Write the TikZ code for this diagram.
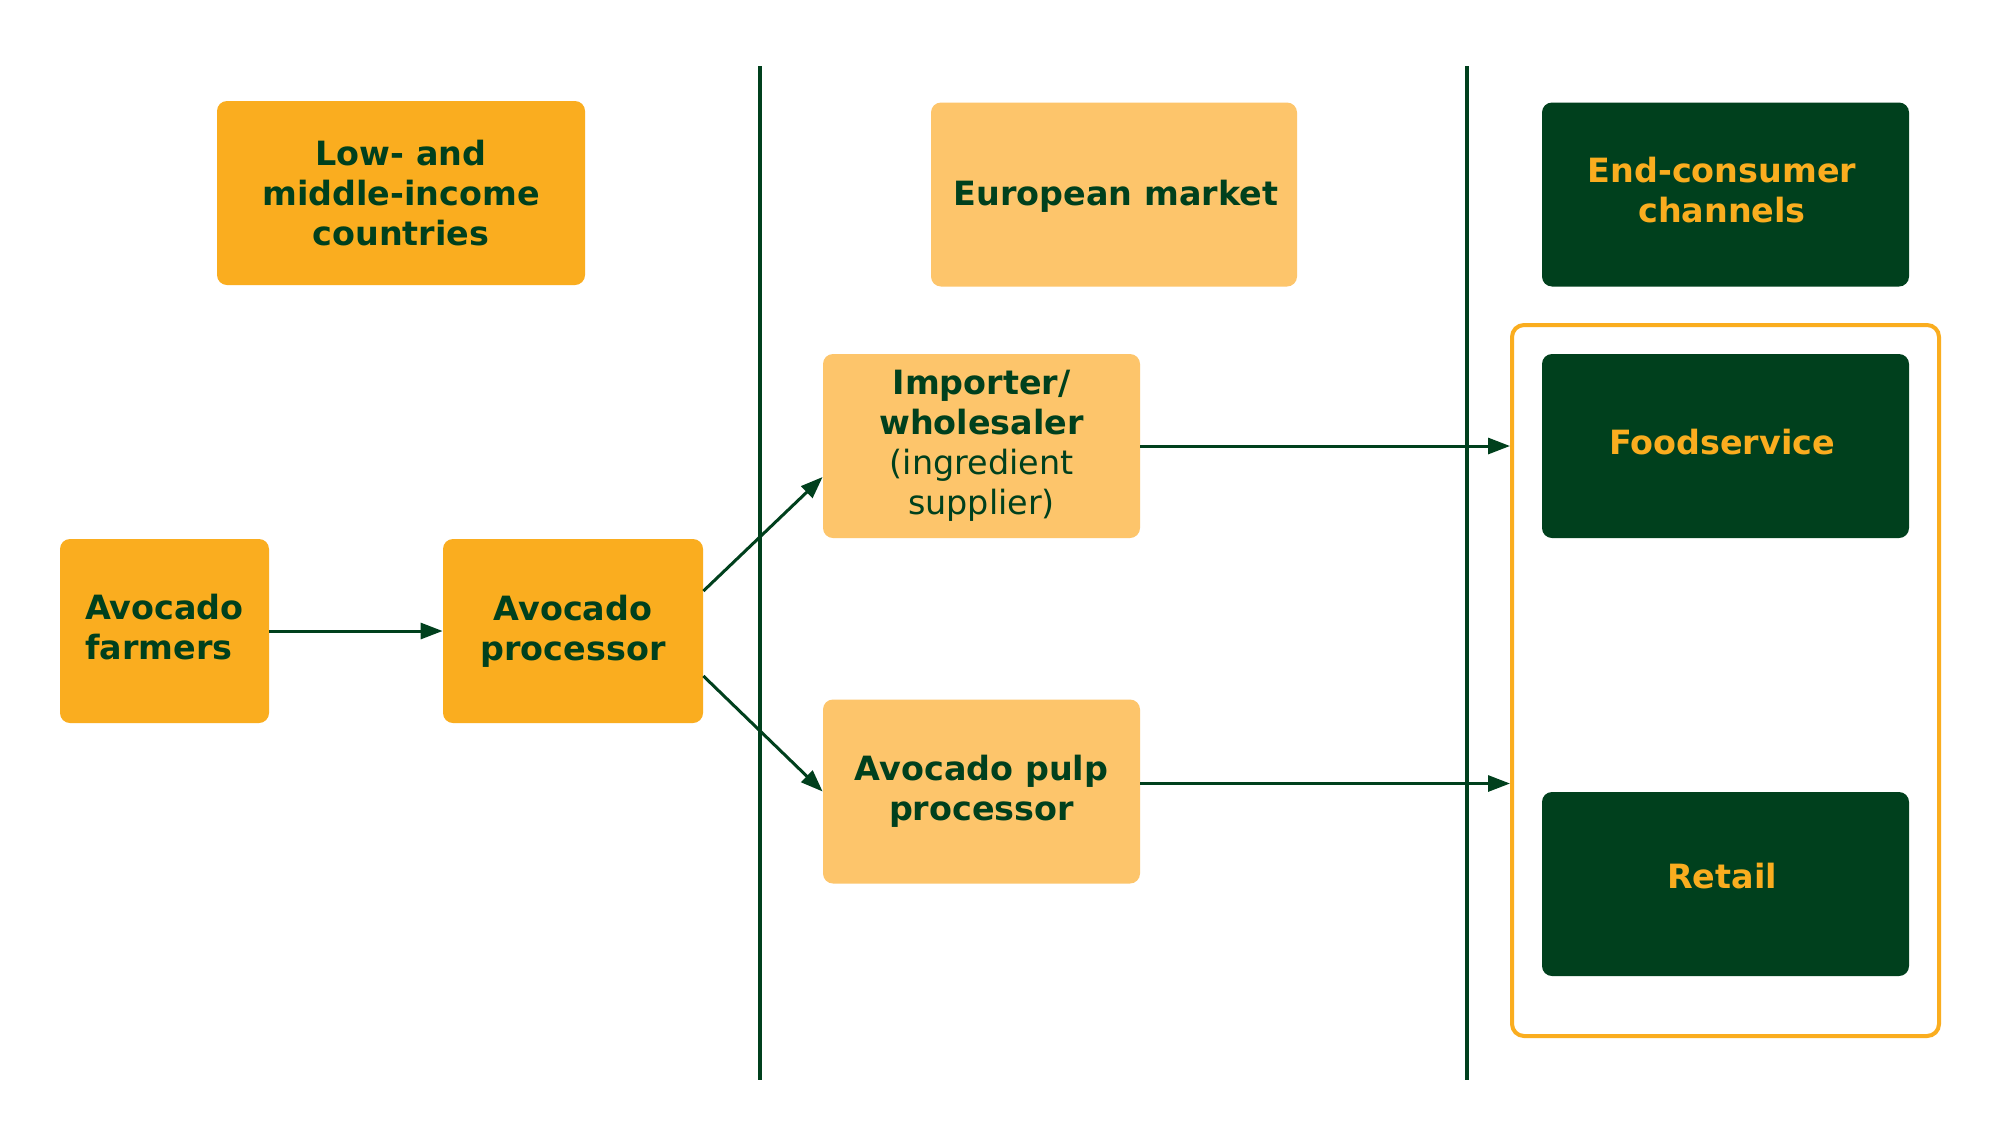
\documentclass[tikz,border=0pt]{standalone}
\usepackage{fontspec}
\setmainfont{DejaVu Sans}
\usetikzlibrary{arrows.meta,calc}
\definecolor{dkgreen}{HTML}{00401D}
\definecolor{orng}{HTML}{FAAD1F}
\definecolor{lorng}{HTML}{FDC56B}
\begin{document}
\begin{tikzpicture}[x=0.5pt,y=-0.5pt,
  box/.style={rectangle, rounded corners=5pt, inner sep=0pt, align=center,
    minimum height=92pt, font=\fontsize{16.7}{20}\selectfont\bfseries},
  darkbox/.style={box, fill=orng, text=dkgreen},
  lightbox/.style={box, fill=lorng, text=dkgreen},
  greenbox/.style={box, fill=dkgreen, text=orng},
  conn/.style={draw=dkgreen, line width=1.5pt, -{Triangle[length=11pt,width=8pt]}},
  divider/.style={draw=dkgreen, line width=1.6pt},
  lbl/.style={inner sep=0pt, align=center, font=\fontsize{16.7}{20}\selectfont\bfseries},
  groupbox/.style={draw=orng, line width=2pt, rounded corners=6pt, inner sep=0pt,
    minimum width=213.5pt, minimum height=355.5pt}]
\useasboundingbox (0,0) rectangle (2000,1146);
\fill[white] (0,0) rectangle (2000,1146);

% dividers
\coordinate (v1t) at (760,66);
\coordinate (v1b) at (760,1080);
\coordinate (v2t) at (1467,66);
\coordinate (v2b) at (1467,1080);
\draw[divider] (v1t) -- (v1b);
\draw[divider] (v2t) -- (v2b);

% header boxes
\node[darkbox, minimum width=184pt] (low) at (401,193) {Low- and\\middle-income\\countries};
\node[lightbox, minimum width=183pt] (euro) at (1114,194.5) {};
\node[lbl, text=dkgreen] (eurot) at (1116,196) {European market};
\node[greenbox, minimum width=183.5pt] (endc) at (1725.5,194.5) {};
\node[lbl, text=orng] (endct) at (1722,190) {End-consumer\\channels};

% chain
\node[darkbox, minimum width=104.5pt] (farm) at (164.5,631) {};
\node[lbl, text=dkgreen, align=left] (farmt) at (164.5,627) {Avocado\\farmers};
\node[darkbox, minimum width=130pt] (proc) at (573,631) {Avocado\\processor};
\node[lightbox, minimum width=158.5pt] (imp) at (981.5,446) {Importer/\\wholesaler\\\mdseries(ingredient\\\mdseries supplier)};
\node[lightbox, minimum width=158.5pt] (pulp) at (981.5,791.5) {Avocado pulp\\processor};

% channels
\node[groupbox] (grp) at (1725.5,680.5) {};
\node[greenbox, minimum width=183.5pt] (food) at (1725.5,446) {};
\node[lbl, text=orng] (foodt) at (1722,442) {Foodservice};
\node[greenbox, minimum width=183.5pt] (retail) at (1725.5,884) {};
\node[lbl, text=orng] (retailt) at (1722,876) {Retail};

% connectors
\coordinate (pulpout) at ($(pulp.east)+(0,-8)$);
\draw[conn] (farm.east) -- (proc.west);
\draw[conn] ($(proc.east)+(0,-40)$) -- ($(imp.west)+(0,31)$);
\draw[conn] ($(proc.east)+(0,45)$) -- (pulp.west);
\draw[conn] (imp.east) -- (imp.east -| grp.west);
\draw[conn] (pulpout) -- (pulpout -| grp.west);
\end{tikzpicture}
\end{document}
